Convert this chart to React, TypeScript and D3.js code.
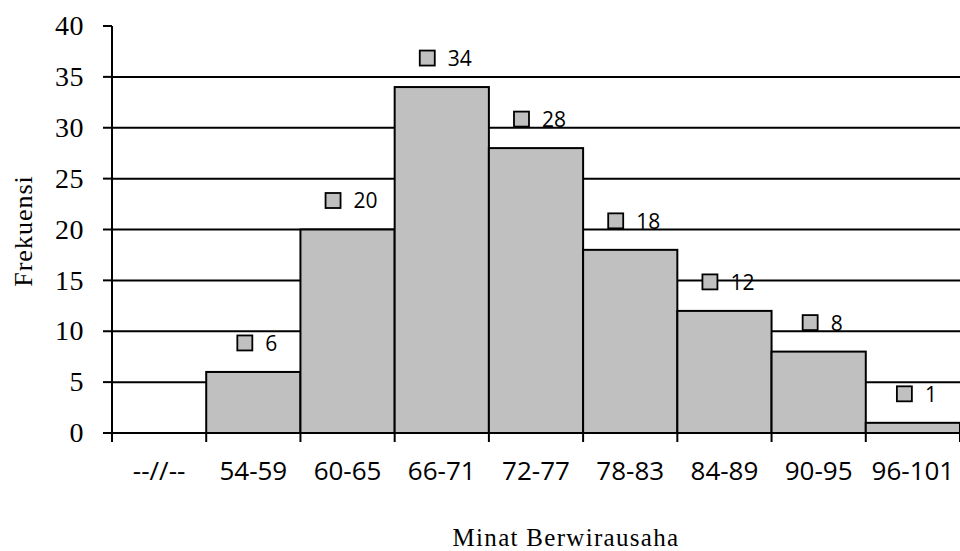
import React from "react";
import * as d3 from "d3";

const categories = ["--//--", "54-59", "60-65", "66-71", "72-77", "78-83", "84-89", "90-95", "96-101"];
const frequencies = [0, 6, 20, 34, 28, 18, 12, 8, 1];
const yTicks = [0, 5, 10, 15, 20, 25, 30, 35, 40];
const yTitle = "Frekuensi";
const xTitle = "Minat Berwirausaha";

const W = 960;
const H = 551;
const left = 112;
const right = 960;
const top = 26;
const bottom = 433;

export default function App() {
  const x = d3.scaleBand<string>().domain(categories).range([left, right]).paddingInner(0).paddingOuter(0);
  const y = d3.scaleLinear().domain([0, 40]).range([bottom, top]);
  const bw = x.bandwidth();
  const labelFont = 21;
  const approxDigit = labelFont * 0.572;

  return (
    <svg width={W} height={H} style={{ position: "absolute", left: 0, top: 0, display: "block", background: "#fff" }}>
      {/* gridlines */}
      {yTicks.filter((t) => t > 0 && t < 40).map((t) => (
        <line key={"g" + t} x1={left} x2={right} y1={y(t)} y2={y(t)} stroke="#000" strokeWidth={2} />
      ))}
      {/* bars */}
      {categories.map((c, i) =>
        frequencies[i] > 0 ? (
          <rect
            key={"b" + c}
            x={x(c)!}
            y={y(frequencies[i])}
            width={bw}
            height={bottom - y(frequencies[i])}
            fill="#c0c0c0"
            stroke="#000"
            strokeWidth={2}
          />
        ) : null
      )}
      {/* y axis */}
      <line x1={left} x2={left} y1={top} y2={bottom} stroke="#000" strokeWidth={2} />
      {yTicks.map((t) => (
        <g key={"y" + t}>
          <line x1={left - 9} x2={left} y1={y(t)} y2={y(t)} stroke="#000" strokeWidth={2} />
          <text
            x={84}
            y={y(t)}
            dy="0.33em"
            textAnchor="end"
            fontFamily="'Liberation Serif', 'DejaVu Serif', serif"
            fontSize={28}
            letterSpacing={0.5}
            fill="#000"
          >
            {t}
          </text>
        </g>
      ))}
      {/* x axis */}
      <line x1={left} x2={right} y1={bottom} y2={bottom} stroke="#000" strokeWidth={2} />
      {categories.map((c) => (
        <line key={"xt" + c} x1={x(c)! + bw} x2={x(c)! + bw} y1={bottom} y2={bottom + 9} stroke="#000" strokeWidth={2} />
      ))}
      <line x1={left} x2={left} y1={bottom} y2={bottom + 9} stroke="#000" strokeWidth={2} />
      {categories.map((c) => (
        <text
          key={"xl" + c}
          x={x(c)! + bw / 2}
          y={480}
          textAnchor="middle"
          fontFamily="'Open Sans', 'Noto Sans', sans-serif"
          fontSize={26}
          fill="#000"
        >
          {c}
        </text>
      ))}
      {/* data labels */}
      {categories.map((c, i) => {
        if (frequencies[i] <= 0) return null;
        const txt = String(frequencies[i]);
        const tw = txt.length * approxDigit;
        const total = 15 + 13 + tw;
        const cx = x(c)! + bw / 2 + 4;
        const startX = cx - total / 2;
        const my = y(frequencies[i]) - 29;
        return (
          <g key={"dl" + c}>
            <rect x={startX} y={my - 7.5} width={15} height={15} fill="#c0c0c0" stroke="#000" strokeWidth={1.8} />
            <text
              x={startX + 28}
              y={my}
              dy="0.38em"
              fontFamily="'Open Sans', 'Noto Sans', sans-serif"
              fontSize={labelFont}
              fill="#000"
            >
              {txt}
            </text>
          </g>
        );
      })}
      {/* titles */}
      <text
        transform={`translate(32, 231) rotate(-90)`}
        textAnchor="middle"
        fontFamily="'Liberation Serif', 'DejaVu Serif', serif"
        fontSize={26}
        letterSpacing={1}
        fill="#000"
      >
        {yTitle}
      </text>
      <text
        x={566}
        y={546}
        textAnchor="middle"
        fontFamily="'Liberation Serif', 'DejaVu Serif', serif"
        fontSize={25}
        letterSpacing={1.3}
        fill="#000"
      >
        {xTitle}
      </text>
    </svg>
  );
}
